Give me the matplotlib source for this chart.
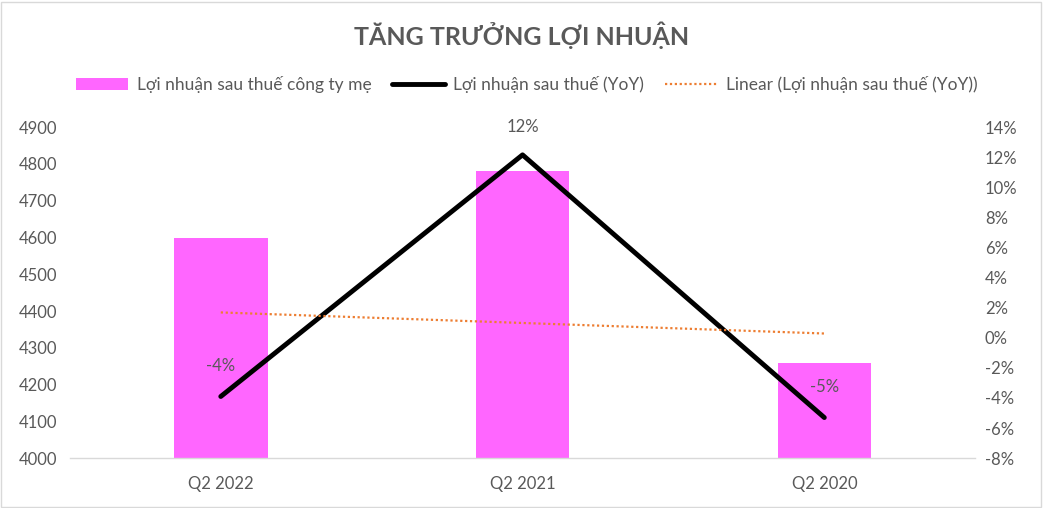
import matplotlib.pyplot as plt
import matplotlib.ticker as mticker
import numpy as np

plt.rcParams['font.family'] = ['Lato', 'DejaVu Sans']

# datos
quarters = ['Q2 2022', 'Q2 2021', 'Q2 2020']
profit = [4598, 4780, 4258]          # Lợi nhuận sau thuế công ty mẹ
yoy = [-3.9, 12.15, -5.3]            # Lợi nhuận sau thuế (YoY), %
yoy_labels = ['-4%', '12%', '-5%']

grey = '#595959'
x = np.arange(len(quarters))

fig = plt.figure(figsize=(10.43, 5.08), dpi=100)
ax = fig.add_axes([0.067, 0.098, 0.868, 0.652])
ax2 = ax.twinx()

bars = ax.bar(x, profit, 0.31, color='#FF66FF', label='Lợi nhuận sau thuế công ty mẹ', zorder=2)
ax.set_ylim(4000, 4900)
ax.set_yticks(np.arange(4000, 4901, 100))
ax.set_xlim(-0.5, 2.5)
ax.set_xticks(x, quarters)

line, = ax2.plot(x, yoy, color='black', lw=3.5, solid_capstyle='round',
                 label='Lợi nhuận sau thuế (YoY)', zorder=3)
# linea de tendencia lineal
coef = np.polyfit(x, yoy, 1)
trend, = ax2.plot(x, np.polyval(coef, x), color='#ED7D31', lw=1.6, ls=(0, (1, 1.2)),
                  label='Linear (Lợi nhuận sau thuế (YoY))', zorder=3)
ax2.set_ylim(-8, 14)
ax2.set_yticks(np.arange(-8, 15, 2))
ax2.yaxis.set_major_formatter(mticker.FuncFormatter(lambda v, p: f'{v:.0f}%'))

offsets = [(0, 16), (0, 14), (0, 16)]
for xi, yi, lab, off in zip(x, yoy, yoy_labels, offsets):
    ax2.annotate(lab, (xi, yi), xytext=off, textcoords='offset points',
                 ha='center', va='bottom', color=grey, fontsize=12)

for a in (ax, ax2):
    for s in a.spines.values():
        s.set_visible(False)
    a.tick_params(length=0, colors=grey, labelsize=12)
ax.spines['bottom'].set_visible(True)
ax.spines['bottom'].set_color('#D9D9D9')
ax.spines['bottom'].set_linewidth(1)
ax.tick_params(axis='x', pad=13)
ax.tick_params(axis='y', pad=9)
ax2.tick_params(axis='y', pad=7)

fig.text(0.5, 0.931, 'TĂNG TRƯỞNG LỢI NHUẬN', ha='center', va='center',
         fontsize=18, fontweight='bold', color=grey)
fig.legend(handles=[bars, line, trend], loc='center', bbox_to_anchor=(0.505, 0.833),
           ncol=3, frameon=False, fontsize=12.5, labelcolor=grey,
           handlelength=3.0, columnspacing=1.2, handletextpad=0.5)

# borde exterior
fig.patches.append(plt.Rectangle((0.001, 0.002), 0.997, 0.995, transform=fig.transFigure,
                                 fill=False, edgecolor='#D9D9D9', lw=1))

fig.savefig('out.png', dpi=100)
